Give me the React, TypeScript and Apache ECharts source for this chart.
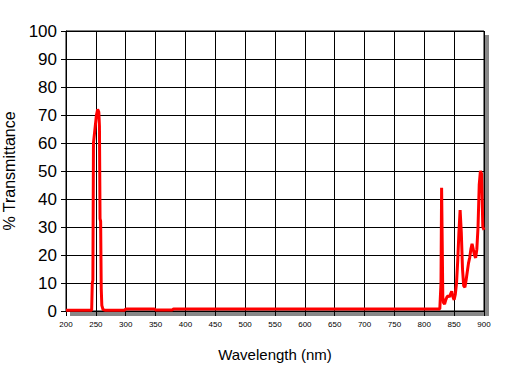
import React, { useEffect, useRef } from "react";
import * as echarts from "echarts";

const wavelengths = [
  200, 243, 244, 245, 246, 247, 248, 249, 250, 251, 252, 253, 254, 255, 256, 257, 258, 259, 260, 262, 265,
  298, 300, 348, 350, 378, 380,
  826, 827, 828, 829, 830, 831, 832, 834, 836, 838, 840, 842, 844, 846, 848, 850, 852, 854, 856, 858, 860,
  862, 864, 866, 868, 870, 872, 874, 876, 878, 880, 882, 884, 886, 888, 890, 892, 894, 896, 898, 900,
];
const transmittance = [
  0.3, 0.3, 10, 11, 60, 62, 64, 66, 68, 70, 71, 72, 72, 71, 66, 33, 32, 8, 2, 0.5, 0.3,
  0.3, 0.7, 0.7, 0.4, 0.4, 0.7,
  0.7, 0.7, 10, 44, 25, 5, 3, 2.5, 4, 5, 5.5, 5, 6, 7, 5, 4, 6, 10, 18, 28, 36,
  28, 15, 9, 8.5, 11, 14, 17, 19, 22, 24, 22, 20, 19, 22, 30, 45, 50, 49, 30, 29,
];
const xTicks = { min: 200, max: 900, interval: 50 };
const yTicks = { min: 0, max: 100, interval: 10 };

export default function App() {
  const ref = useRef<HTMLDivElement>(null);
  useEffect(() => {
    if (!ref.current) return;
    const chart = echarts.init(ref.current, undefined, { renderer: "svg" });
    const data = wavelengths.map((w, i) => [w, transmittance[i]]);
    chart.setOption({
      animation: false,
      backgroundColor: "#ffffff",
      textStyle: { fontFamily: "Liberation Sans, Arial, sans-serif" },
      graphic: [
        {
          type: "rect",
          z: -10,
          shape: { x: 70, y: 35, width: 419, height: 281 },
          style: { fill: "#888888" },
        },
      ],
      grid: {
        left: 66,
        top: 31,
        right: 23,
        bottom: 57,
        show: true,
        backgroundColor: "#ffffff",
        borderColor: "#000000",
        borderWidth: 1,
        containLabel: false,
        outerBoundsMode: "none",
      },
      xAxis: {
        type: "value",
        min: xTicks.min,
        max: xTicks.max,
        interval: xTicks.interval,
        name: "Wavelength (nm)",
        nameLocation: "middle",
        nameGap: 36,
        nameTextStyle: { color: "#000", fontSize: 15, fontFamily: "Liberation Sans" },
        axisLine: { show: true, lineStyle: { color: "#000", width: 1 } },
        axisTick: { show: true, length: 5, lineStyle: { color: "#000" } },
        axisLabel: { color: "#000", fontSize: 8, margin: 9, fontFamily: "Liberation Sans" },
        splitLine: { show: true, lineStyle: { color: "#000", width: 1 } },
      },
      yAxis: {
        type: "value",
        min: yTicks.min,
        max: yTicks.max,
        interval: yTicks.interval,
        name: "% Transmittance",
        nameLocation: "middle",
        nameGap: 48,
        nameRotate: 90,
        nameTextStyle: { color: "#000", fontSize: 16, fontFamily: "Liberation Sans" },
        axisLine: { show: true, lineStyle: { color: "#000", width: 1 } },
        axisTick: { show: true, length: 5, lineStyle: { color: "#000" } },
        axisLabel: { color: "#000", fontSize: 17, margin: 9, fontFamily: "Liberation Sans" },
        splitLine: { show: true, lineStyle: { color: "#000", width: 1 } },
      },
      series: [
        {
          type: "line",
          data,
          showSymbol: false,
          symbol: "none",
          lineStyle: { color: "#ff0000", width: 3 },
          itemStyle: { color: "#ff0000" },
          clip: true,
        },
      ],
    });
    return () => chart.dispose();
  }, []);
  return (
    <div
      ref={ref}
      style={{ position: "fixed", left: 0, top: 0, width: 507, height: 368 }}
    />
  );
}
